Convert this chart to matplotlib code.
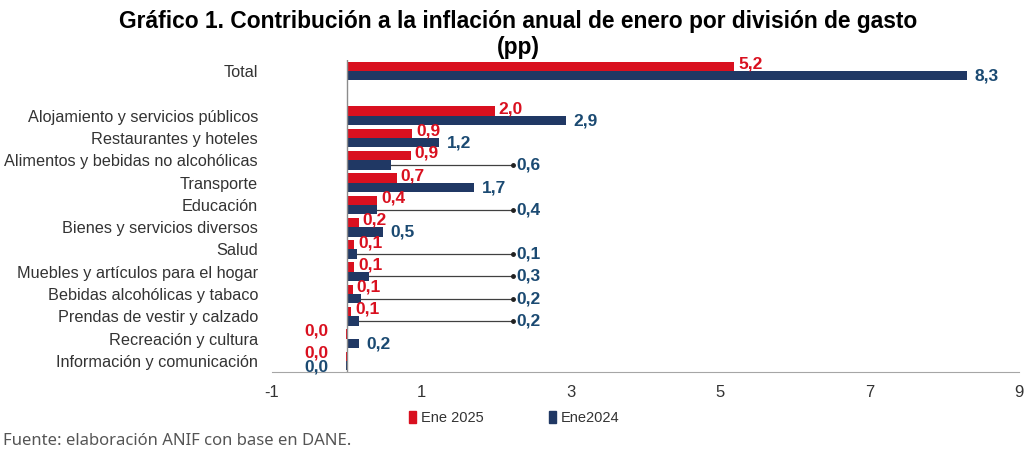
import matplotlib.pyplot as plt
import matplotlib.patches as patches
import numpy as np

categories = [
    "Total",
    "",
    "Alojamiento y servicios públicos",
    "Restaurantes y hoteles",
    "Alimentos y bebidas no alcohólicas",
    "Transporte",
    "Educación",
    "Bienes y servicios diversos",
    "Salud",
    "Muebles y artículos para el hogar",
    "Bebidas alcohólicas y tabaco",
    "Prendas de vestir y calzado",
    "Recreación y cultura",
    "Información y comunicación",
]
ene2025 = [5.19, None, 1.98, 0.88, 0.86, 0.67, 0.41, 0.16, 0.10, 0.10, 0.08, 0.06, -0.01, -0.01]
ene2024 = [8.31, None, 2.93, 1.24, 0.60, 1.71, 0.41, 0.48, 0.14, 0.30, 0.19, 0.17, 0.16, -0.01]
# categories whose 2024 label is pulled out with a leader line
leader = {
    "Alimentos y bebidas no alcohólicas",
    "Educación",
    "Salud",
    "Muebles y artículos para el hogar",
    "Bebidas alcohólicas y tabaco",
    "Prendas de vestir y calzado",
}
leader_x = 2.22
xticks = [-1, 1, 3, 5, 7, 9]

RED = "#D9101F"
NAVY = "#203864"
NAVY_TXT = "#1B4A72"

plt.rcParams["font.family"] = ["Liberation Sans", "DejaVu Sans"]


def fmt(v):
    s = f"{v:.1f}"
    if s == "-0.0":
        s = "0.0"
    return s.replace(".", ",")


fig = plt.figure(figsize=(10.24, 4.51), dpi=100)
ax = fig.add_axes([0.2656, 0.175, 0.7295, 0.692])

h = 0.42
lab = dict(fontsize=12.5, fontweight="bold", va="center")
y = np.arange(len(categories))
for i, name in enumerate(categories):
    a, b = ene2025[i], ene2024[i]
    if a is None:
        continue
    ax.barh(i - h / 2, a, height=h, color=RED)
    ax.barh(i + h / 2, b, height=h, color=NAVY)

    # 2025 labels
    if a > 0:
        ax.text(a + 0.05, i - h / 2 - 0.1, fmt(a), color=RED, ha="left", **lab)
    else:
        ax.text(-0.4, i - h / 2 - 0.15, fmt(a), color=RED, ha="center", **lab)

    # 2024 labels
    if name in leader:
        ax.plot([b, leader_x], [i + h / 2, i + h / 2], color="#404040", lw=0.9)
        ax.plot(leader_x, i + h / 2, "o", color="#202020", ms=2.5)
        ax.text(leader_x + 0.05, i + h / 2, fmt(b), color=NAVY_TXT, ha="left", **lab)
    elif b > 0:
        ax.text(b + 0.1, i + h / 2 + 0.02, fmt(b), color=NAVY_TXT, ha="left", **lab)
    else:
        ax.text(-0.4, i + h / 2 + 0.05, fmt(b), color=NAVY_TXT, ha="center", **lab)

ax.set_xlim(-1, 9)
ax.set_ylim(len(categories) - 0.5, -0.5)
ax.set_xticks(xticks)
ax.set_xticklabels([str(t) for t in xticks], fontsize=12, color="#333333")
ax.set_yticks(y)
ax.set_yticklabels(categories, fontsize=11.7, color="#333333")
ax.tick_params(axis="both", length=0)
ax.tick_params(axis="x", pad=9)
ax.tick_params(axis="y", pad=10)

for s in ["top", "right", "left"]:
    ax.spines[s].set_visible(False)
ax.spines["bottom"].set_color("#A6A6A6")
ax.axvline(0, color="#8C8C8C", lw=1)

fig.text(0.506, 0.978, "Gráfico 1. Contribución a la inflación anual de enero por división de gasto\n(pp)",
         ha="center", va="top", fontsize=16.4, fontweight="bold", color="#000000",
         linespacing=1.15)

handles = [patches.Patch(color=RED, label="Ene 2025"),
           patches.Patch(color=NAVY, label="Ene2024")]
fig.legend(handles=handles, loc="center", bbox_to_anchor=(0.502, 0.073),
           ncol=2, frameon=False, fontsize=10.5, handlelength=0.5, handleheight=0.8,
           handletextpad=0.3, columnspacing=4.5, labelcolor="#333333")

fig.text(0.003, 0.004, "Fuente: elaboración ANIF con base en DANE.", fontsize=12,
         color="#555555", ha="left", va="bottom", family=["Noto Sans", "DejaVu Sans"])

fig.savefig("out.png", dpi=100)
